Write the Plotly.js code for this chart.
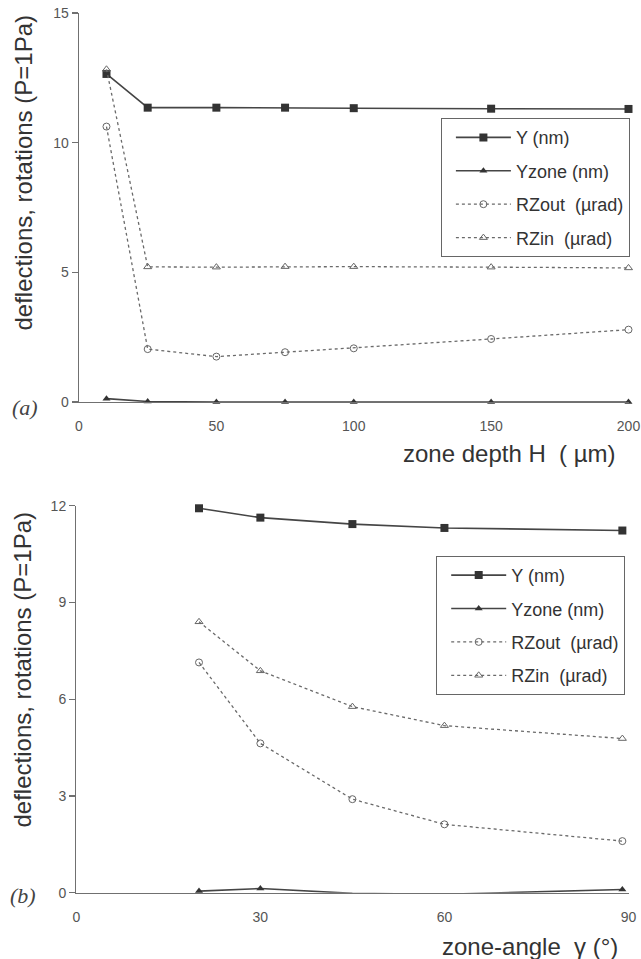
<!DOCTYPE html>
<html>
<head>
<meta charset="utf-8">
<script src="https://cdn.plot.ly/plotly-3.0.1.min.js"></script>
<style>html,body{margin:0;padding:0;background:#fff;}#chart{width:641px;height:959px;}</style>
</head>
<body>
<div id="chart"></div>
<script>
// ---- Panel (a): zone depth H (µm) ----
const depthH = [10, 25, 50, 75, 100, 150, 200];
const aY      = [12.65, 11.35, 11.35, 11.35, 11.33, 11.31, 11.3];
const aYzone  = [0.13, 0.02, 0.0, 0.0, 0.0, 0.0, 0.0];
const aRZout  = [10.62, 2.04, 1.75, 1.92, 2.07, 2.43, 2.79];
const aRZin   = [12.83, 5.21, 5.2, 5.22, 5.22, 5.2, 5.17];
const aXTicks = [0, 50, 100, 150, 200];
const aYTicks = [0, 5, 10, 15];

// ---- Panel (b): zone-angle gamma (°) ----
const angleG  = [20, 30, 45, 60, 89];
const bY      = [11.92, 11.63, 11.43, 11.31, 11.23];
const bYzone  = [0.05, 0.13, -0.02, -0.05, 0.1];
const bRZout  = [7.14, 4.63, 2.9, 2.12, 1.6];
const bRZin   = [8.4, 6.88, 5.77, 5.18, 4.78];
const bXTicks = [0, 30, 60, 90];
const bYTicks = [0, 3, 6, 9, 12];

const names = ['Y (nm)', 'Yzone (nm)', 'RZout  (\u00b5rad)', 'RZin  (\u00b5rad)'];

const solidC = '#454545', dashC = '#6a6a6a';
function styles(i) {
  if (i === 0) return {line:{color:solidC,width:1.6}, marker:{symbol:'square',size:8,color:'#333'}};
  if (i === 1) return {line:{color:solidC,width:1.6}, marker:{symbol:'triangle-up',size:7,color:'#333'}};
  if (i === 2) return {line:{color:dashC,width:1.3,dash:'3px,3px'}, marker:{symbol:'circle-open',size:7,color:'#666',line:{width:1}}};
  return {line:{color:dashC,width:1.3,dash:'3px,3px'}, marker:{symbol:'triangle-up-open',size:7,color:'#666',line:{width:1}}};
}

const traces = [];
[aY, aYzone, aRZout, aRZin].forEach((ys, i) => {
  const s = styles(i);
  traces.push({x: depthH, y: ys, name: names[i], type:'scatter', mode:'lines+markers',
    xaxis:'x', yaxis:'y', line:s.line, marker:s.marker, cliponaxis:false,
    legend:'legend', legendgroup:'a'+i});
});
[bY, bYzone, bRZout, bRZin].forEach((ys, i) => {
  const s = styles(i);
  traces.push({x: angleG, y: ys, name: names[i], type:'scatter', mode:'lines+markers',
    xaxis:'x2', yaxis:'y2', line:s.line, marker:s.marker, cliponaxis:false,
    legend:'legend2', legendgroup:'b'+i});
});

const W = 641, H = 959;
const axCol = '#707070';
const tickFont = {family:'Liberation Sans, Arial, sans-serif', size:14, color:'#555'};
function xax(domainPx, range, tickvals) {
  return {domain:[domainPx[0]/W, domainPx[1]/W], range:range, tickvals:tickvals,
    showgrid:false, zeroline:false, showline:true, linecolor:axCol, linewidth:1.3,
    ticks:'outside', ticklen:11, tickcolor:'rgba(0,0,0,0)', tickfont:tickFont,
    ticklabeloverflow:'allow', fixedrange:true};
}
function yax(domainPx, range, tickvals) {
  return {domain:[1-domainPx[1]/H, 1-domainPx[0]/H], range:range, tickvals:tickvals,
    showgrid:false, zeroline:false, showline:true, linecolor:axCol, linewidth:1.3,
    ticks:'outside', ticklen:6, tickcolor:axCol, tickwidth:1.2, tickfont:tickFont,
    ticklabeloverflow:'allow', fixedrange:true};
}

const titleFont = {family:'Liberation Sans, Arial, sans-serif', size:24, color:'#333'};
const legFont = {family:'Liberation Sans, Arial, sans-serif', size:18, color:'#333'};
const lab = {family:'Liberation Serif, DejaVu Serif, serif', size:22, color:'#444'};

const legBase = {xanchor:'left', yanchor:'top', bgcolor:'#fff', bordercolor:'#666', borderwidth:1.2,
  font:legFont, itemwidth:55, tracegroupgap:7, traceorder:'grouped', indentation:9};

const layout = {
  width:W, height:H, margin:{l:0,r:0,t:0,b:0}, paper_bgcolor:'#fff', plot_bgcolor:'#fff',
  showlegend:true,
  xaxis: xax([79, 628.5], [0, 200], aXTicks),
  yaxis: yax([13, 402], [0, 15], aYTicks),
  xaxis2: Object.assign(xax([76.3, 628.5], [0, 90], bXTicks), {anchor:'y2'}),
  yaxis2: Object.assign(yax([505.7, 892.7], [0, 12], bYTicks), {anchor:'x2'}),
  legend: Object.assign({x:440.7/W, y:1-118/H}, legBase),
  legend2: Object.assign({x:436/W, y:1-555.7/H}, legBase),
  annotations: [
    {text:'deflections, rotations (P=1Pa)', textangle:-90, xref:'paper', yref:'paper',
      x:23/W, y:1-172.5/H, showarrow:false, font:titleFont, xanchor:'center', yanchor:'middle'},
    {text:'deflections, rotations (P=1Pa)', textangle:-90, xref:'paper', yref:'paper',
      x:22/W, y:1-669.5/H, showarrow:false, font:titleFont, xanchor:'center', yanchor:'middle'},
    {text:'zone depth H  ( \u00b5m)', xref:'paper', yref:'paper', x:618/W, y:1-453/H,
      showarrow:false, font:titleFont, xanchor:'right', yanchor:'middle'},
    {text:'zone-angle  \u03b3 (\u00b0)', xref:'paper', yref:'paper', x:620/W, y:1-946/H,
      showarrow:false, font:titleFont, xanchor:'right', yanchor:'middle'},
    {text:'<i>(a)</i>', xref:'paper', yref:'paper', x:24.5/W, y:1-407/H, showarrow:false,
      font:lab, xanchor:'center', yanchor:'middle'},
    {text:'<i>(b)</i>', xref:'paper', yref:'paper', x:23/W, y:1-895/H, showarrow:false,
      font:lab, xanchor:'center', yanchor:'middle'}
  ]
};

Plotly.newPlot('chart', traces, layout, {displayModeBar:false, staticPlot:true});
</script>
</body>
</html>
